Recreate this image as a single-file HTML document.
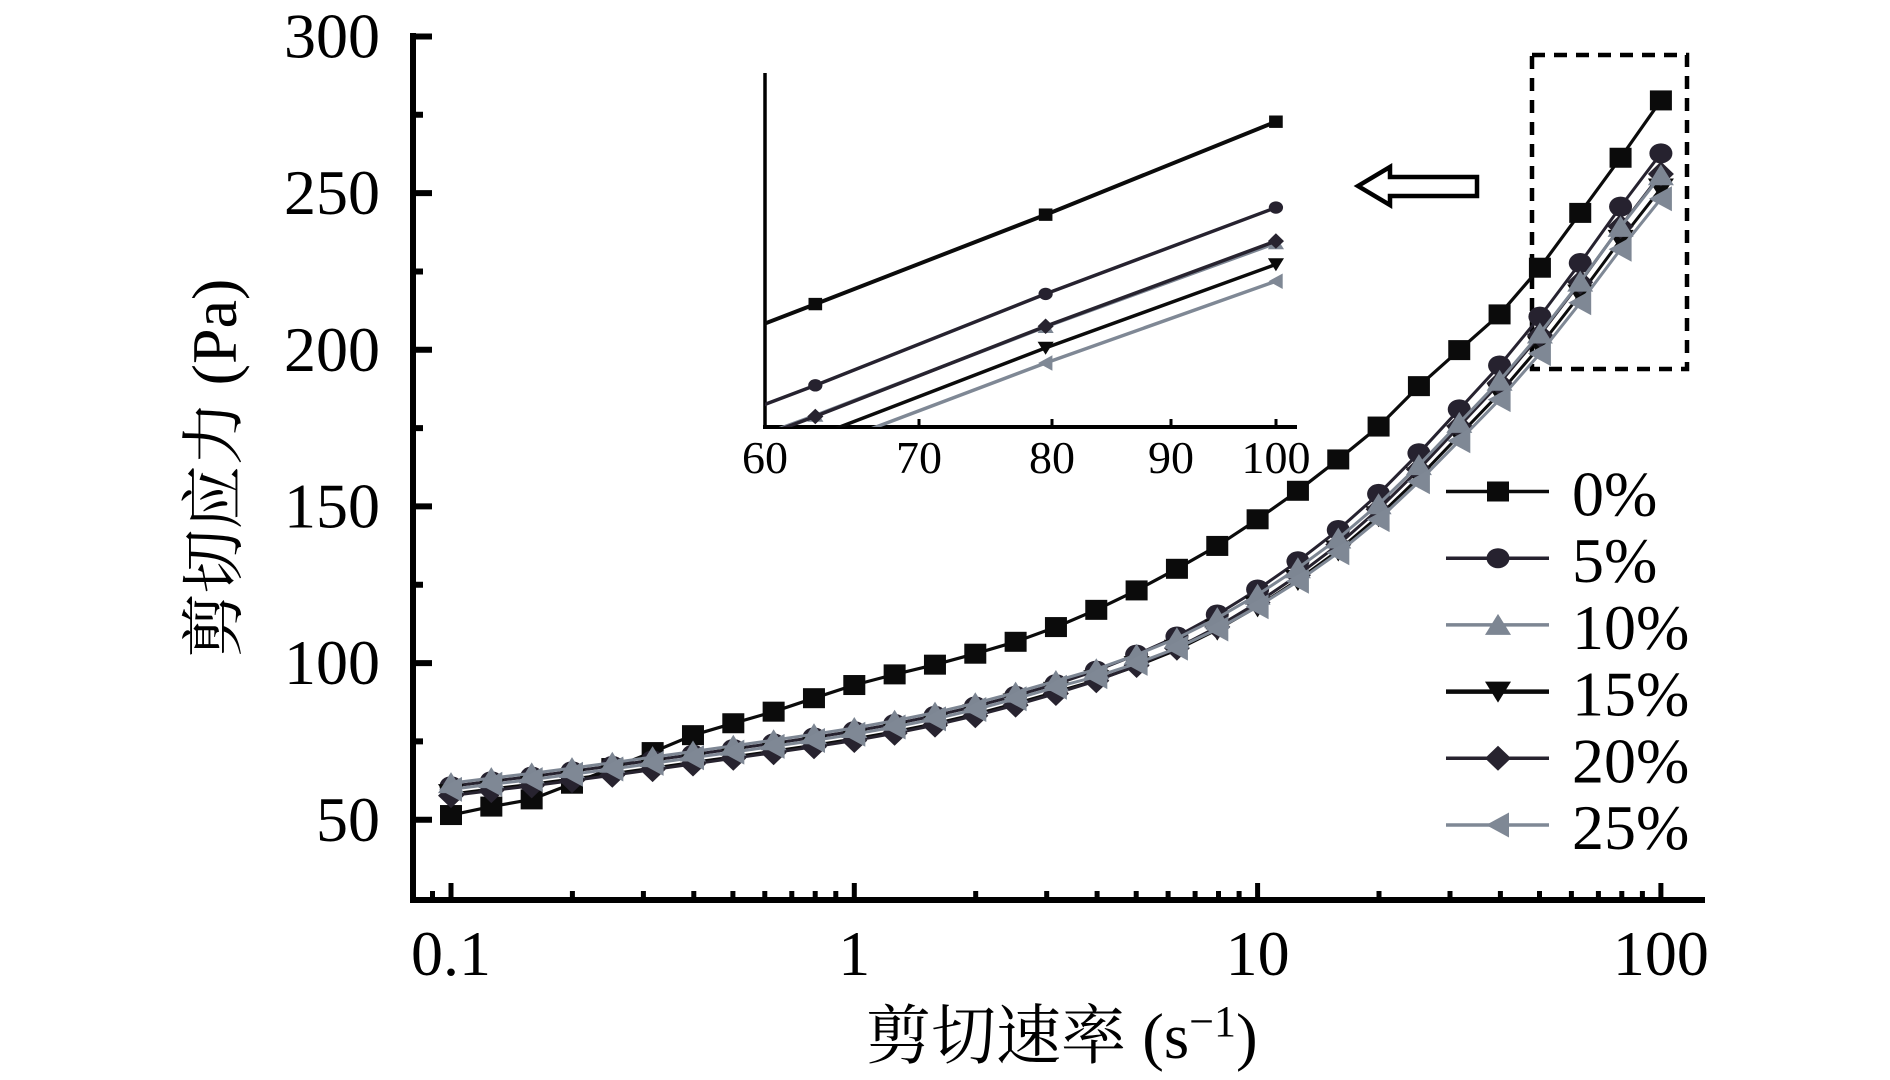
<!DOCTYPE html>
<html>
<head>
<meta charset="utf-8">
<style>
html,body{margin:0;padding:0;background:#fff;}
svg{display:block;}
text{font-family:"Liberation Serif","Noto Serif CJK SC",serif;fill:#000;}
</style>
</head>
<body>
<svg id="chart" width="1890" height="1080" viewBox="0 0 1890 1080" xmlns="http://www.w3.org/2000/svg">
<rect x="0" y="0" width="1890" height="1080" fill="#fff"/>
<defs>
<clipPath id="insetClip"><rect x="765" y="73" width="532" height="354"/></clipPath>
</defs>

<!-- dashed rectangle -->
<rect x="1532" y="55" width="155" height="314" fill="none" stroke="#000" stroke-width="4.5" stroke-dasharray="13 9"/>

<!-- arrow -->
<polygon points="1358,186 1390,167 1390,177 1477,177 1477,196 1390,196 1390,205" fill="#fff" stroke="#000" stroke-width="4.5" stroke-linejoin="miter"/>

<!-- main axes -->
<g stroke="#000" fill="none">
<path d="M413 33 V903" stroke-width="6"/>
<path d="M410 900 H1705" stroke-width="6"/>
<path d="M413 36.5 H432 M413 193.1 H432 M413 349.8 H432 M413 506.4 H432 M413 663.1 H432 M413 819.8 H432" stroke-width="6"/>
<path d="M413 114.8 H423 M413 271.5 H423 M413 428.1 H423 M413 584.8 H423 M413 741.4 H423" stroke-width="6"/>
<path d="M451 900 V883 M854.3 900 V883 M1257.6 900 V883 M1660.9 900 V883" stroke-width="5"/>
<path d="M432.5 900 V891 M572.4 900 V891 M643.4 900 V891 M693.8 900 V891 M732.9 900 V891 M764.8 900 V891 M791.8 900 V891 M815.2 900 V891 M835.8 900 V891 M975.7 900 V891 M1046.7 900 V891 M1097.1 900 V891 M1136.2 900 V891 M1168.1 900 V891 M1195.1 900 V891 M1218.5 900 V891 M1239.1 900 V891 M1379 900 V891 M1450 900 V891 M1500.4 900 V891 M1539.5 900 V891 M1571.4 900 V891 M1598.4 900 V891 M1621.8 900 V891 M1642.4 900 V891" stroke-width="5"/>
</g>

<!-- y tick labels -->
<g font-size="64" text-anchor="end">
<text x="380" y="57.5">300</text>
<text x="380" y="214.1">250</text>
<text x="380" y="370.8">200</text>
<text x="380" y="527.4">150</text>
<text x="380" y="684.1">100</text>
<text x="380" y="840.8">50</text>
</g>
<!-- x tick labels -->
<g font-size="64" text-anchor="middle">
<text x="451" y="975">0.1</text>
<text x="854.3" y="975">1</text>
<text x="1257.6" y="975">10</text>
<text x="1660.9" y="975">100</text>
</g>

<!-- axis titles -->
<text transform="translate(236,468) rotate(-90)" text-anchor="middle" font-size="64">剪切应力 (Pa)</text>
<text x="866" y="1058" font-size="65">剪切速率 (s<tspan font-size="44" dy="-22">−1</tspan><tspan dy="22">)</tspan></text>

<!-- inset axes -->
<g stroke="#000" fill="none">
<path d="M765 73 V429" stroke-width="3.5"/>
<path d="M763 427 H1297" stroke-width="4"/>
<path d="M919 427 V419 M1052 427 V419 M1171 427 V419 M1276 427 V419" stroke-width="3"/>
</g>
<g font-size="46" text-anchor="middle">
<text x="765" y="473">60</text>
<text x="919" y="473">70</text>
<text x="1052" y="473">80</text>
<text x="1171" y="473">90</text>
<text x="1276" y="473">100</text>
</g>

<g id="mainSeries"></g>
<g id="insetSeries" clip-path="url(#insetClip)"></g>

<!-- legend -->
<g id="legend">
<g font-size="64">
<text x="1572" y="515.5">0%</text>
<text x="1572" y="582.2">5%</text>
<text x="1572" y="648.9">10%</text>
<text x="1572" y="715.6">15%</text>
<text x="1572" y="782.3">20%</text>
<text x="1572" y="849">25%</text>
</g>
</g>
</svg>

<script>
(function(){
var NS="http://www.w3.org/2000/svg";
function el(tag,attrs,parent){var e=document.createElementNS(NS,tag);for(var k in attrs)e.setAttribute(k,attrs[k]);parent.appendChild(e);return e;}
var v0=[51.5,54.2,56.5,61.5,66.5,71.6,77.0,80.8,84.5,88.8,93.0,96.4,99.5,103.0,106.8,111.5,117.0,123.2,130.1,137.4,145.9,155.0,165.0,175.5,188.4,199.9,211.3,226.2,243.7,261.3,279.6];
var B=[60.7,62.3,63.8,65.5,67.2,69.0,70.8,72.6,74.4,76.3,78.3,80.6,83.2,86.2,89.6,93.3,97.6,102.7,108.5,115.5,123.5,132.5,142.5,154.0,167.0,181.0,195.0,210.6,227.7,245.7,262.7];
function w(k){return Math.max(0,(k-15)/15);}
function mk(fn){var a=[];for(var k=0;k<31;k++)a.push(fn(k));return a;}
var S={
 s0:{v:v0,c:"#0b0b0b",m:"sq",lw:3.2},
 s5:{v:B,c:"#26222f",m:"ci",lw:3},
 s10:{v:mk(function(k){return B[k]+1-8*w(k);}),c:"#7d8693",m:"tu",lw:3},
 s15:{v:mk(function(k){return B[k]-2.5-8.7*w(k);}),c:"#0b0b0b",m:"td",lw:3},
 s20:{v:mk(function(k){return B[k]-3-3.6*w(k);}),c:"#27232f",m:"dm",lw:3},
 s25:{v:mk(function(k){return B[k]-1-13.5*w(k);}),c:"#7f8895",m:"tl",lw:3}
};
function marker(type,x,y,s,c,parent){
 var p;
 if(type==="sq"){el("rect",{x:x-11*s,y:y-10*s,width:22*s,height:20*s,fill:c},parent);return;}
 if(type==="ci"){el("ellipse",{cx:x,cy:y,rx:11.5*s,ry:10*s,fill:c},parent);return;}
 if(type==="tu")p=[[x,y-11*s],[x+13*s,y+10*s],[x-13*s,y+10*s]];
 if(type==="td")p=[[x-13*s,y-10*s],[x+13*s,y-10*s],[x,y+11*s]];
 if(type==="dm")p=[[x,y-12.5*s],[x+13*s,y],[x,y+12.5*s],[x-13*s,y]];
 if(type==="tl")p=[[x-12*s,y],[x+11*s,y-12.5*s],[x+11*s,y+12.5*s]];
 el("polygon",{points:p.map(function(q){return q[0].toFixed(1)+","+q[1].toFixed(1);}).join(" "),fill:c},parent);
}
// main
var gm=document.getElementById("mainSeries");
function mx(k){return 451+40.33*k;}
function my(v){return 976.4-3.133*v;}
["s0","s5","s15","s20","s10","s25"].forEach(function(id){
 var s=S[id];var d="";
 for(var k=0;k<31;k++){d+=(k?"L":"M")+mx(k).toFixed(1)+" "+my(s.v[k]).toFixed(1)+" ";}
 el("path",{d:d,fill:"none",stroke:s.c,"stroke-width":s.lw,"stroke-linejoin":"round"},gm);
 for(var k=0;k<31;k++)marker(s.m,mx(k),my(s.v[k]),1,s.c,gm);
});
// inset
var gi=document.getElementById("insetSeries");
function ix(k){var f=Math.pow(10,-1+k/10);return 765+2303*Math.log10(f/60);}
function iy(v){return 121.7+(279.6-v)*5.08;}
["s0","s5","s10","s20","s15","s25"].forEach(function(id){
 var s=S[id];var d="";
 for(var k=27;k<31;k++){d+=(k>27?"L":"M")+ix(k).toFixed(1)+" "+iy(s.v[k]).toFixed(1)+" ";}
 el("path",{d:d,fill:"none",stroke:s.c,"stroke-width":(id==="s0"?4:3.5),"stroke-linejoin":"round"},gi);
 for(var k=28;k<31;k++)marker(s.m,ix(k),iy(s.v[k]),0.62,s.c,gi);
});
// legend
var gl=document.getElementById("legend");
var order=["s0","s5","s10","s15","s20","s25"];
order.forEach(function(id,i){
 var s=S[id];var y=491.5+66.7*i;
 el("path",{d:"M1446 "+y+" H1549",stroke:s.c,"stroke-width":(id==="s15"?4.5:3.5),fill:"none"},gl);
 marker(s.m,1498,y,1,s.c,gl);
});
})();
</script>
</body>
</html>
